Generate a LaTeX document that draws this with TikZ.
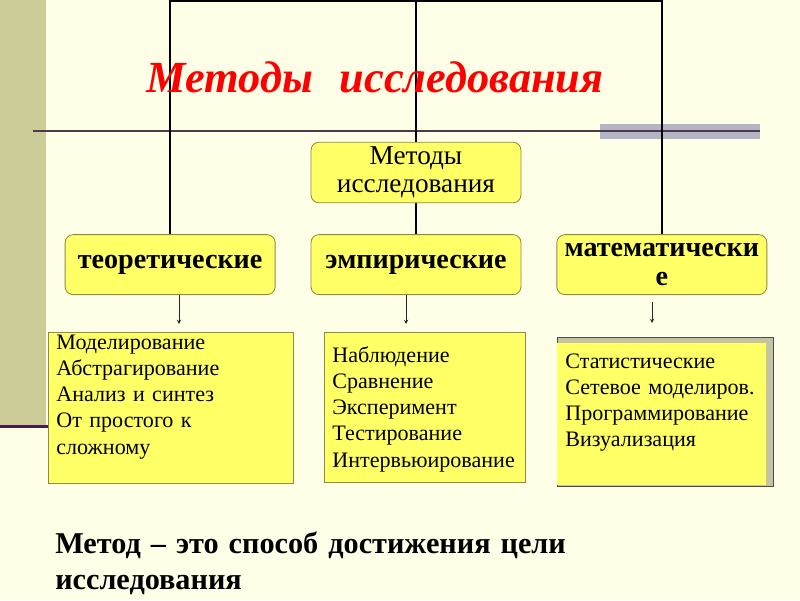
\documentclass[tikz,border=0pt]{standalone}
\usepackage{fontspec}
\setmainfont{Liberation Serif}
\usepackage{xcolor}
\usepackage{tikz}
\usetikzlibrary{positioning,shapes,backgrounds}

\definecolor{paper}{HTML}{FFFFE8}
\definecolor{sidebar}{HTML}{CCCC99}
\definecolor{boxfill}{HTML}{FFFF66}
\definecolor{boxline}{HTML}{8C8C46}
\definecolor{rulecol}{HTML}{4D3A4D}
\definecolor{barcol}{HTML}{B4B4C4}
\definecolor{shadowcol}{HTML}{C4C4A0}
\definecolor{sideline}{HTML}{4A1A4A}

\begin{document}
\begin{tikzpicture}[
  node distance=0.875cm,
  group/.style={rectangle, rounded corners=0.2cm, draw=boxline, fill=boxfill, line width=0.6pt, minimum width=5.25cm, minimum height=1.5cm, align=center, font=\fontsize{20pt}{20.5pt}\selectfont\bfseries},
  root/.style={group, minimum height=1.475cm, font=\fontsize{19.4pt}{20pt}\selectfont},
  list/.style={rectangle, draw=boxline, fill=boxfill, line width=0.6pt, anchor=north west, align=left, inner xsep=0.2cm, inner ysep=0.075cm, font=\fontsize{15.7pt}{18.6pt}\selectfont},
  title/.style={text=red, font=\fontsize{31.6pt}{32pt}\selectfont\bfseries\itshape},
  note/.style={inner sep=0pt, text width=18cm, align=left, font=\fontsize{21.5pt}{26.3pt}\selectfont\bfseries},
  link/.style={line width=1.2pt},
  arrow/.style={->, >=stealth, thin, gray!30!black},
]
  \useasboundingbox (0,0) rectangle (20,-15);

  % heading
  \node[title, anchor=base] (title) at (9.375,-2.3) {Методы\hspace{0.6em}исследования};

  % tree
  \node[root] (methods) at (10.4,-4.3125) {Методы\\исследования};
  \node[group, below=0.775cm of methods] (emp) {эмпирические};
  \node[group, left=of emp] (theor) {теоретические};
  \node[group, right=of emp] (math) {математически\\е};

  % lists
  \node[list, text width=5.725cm, text height=0.35cm, text depth=3.275cm] (theorlist) at (1.2,-8.3)
    {Моделирование\\Абстрагирование\\Анализ и синтез\\От простого к\\сложному};
  \node[list, text width=4.625cm, text height=0.675cm, text depth=2.925cm] (emplist) at (8.1,-8.3)
    {Наблюдение\\Сравнение\\Эксперимент\\Тестирование\\Интервьюирование};
  \node[list, draw=none, text width=4.825cm, text height=0.55cm, text depth=2.85cm] (mathlist) at (13.925,-8.575)
    {Статистические\\Сетевое моделиров.\\Программирование\\Визуализация};

  \coordinate (thEnd) at (4.475,-8.1);
  \coordinate (emEnd) at (10.15,-8.1);
  \coordinate (mtEnd) at (16.3,-8.075);
  \draw[arrow] (theor.south -| thEnd) -- (thEnd);
  \draw[arrow] (emp.south -| emEnd) -- (emEnd);
  \draw[arrow] ([yshift=-0.175cm]math.south -| mtEnd) -- (mtEnd);

  \node[note, anchor=base west] (def) at (1.375,-13.825)
    {Метод – это способ достижения цели\\исследования};

  \begin{scope}[on background layer]
    \fill[paper] (0,0) rectangle (20,-15);
    \fill[sidebar] (0,0) rectangle (1.15,-10.625);
    \draw[sideline, line width=2pt] (0,-10.66) -- (1.2,-10.66);
    \fill[barcol] (15,-3.1) rectangle (19,-3.475);
    \draw[rulecol, line width=1pt] (0.825,-3.275) -- (19,-3.275);
    \coordinate (top) at (0,-0.03);
    \draw[link] (theor.north) -- (theor.north |- top) -- (math.north |- top) -- (math.north);
    \draw[link] (emp.north |- top) -- (emp.north);
    \filldraw[fill=shadowcol, draw=gray!60!black, line width=0.5pt]
      ([yshift=0.15cm]mathlist.north west) rectangle ([xshift=0.15cm]mathlist.south east);
  \end{scope}
\end{tikzpicture}
\end{document}
